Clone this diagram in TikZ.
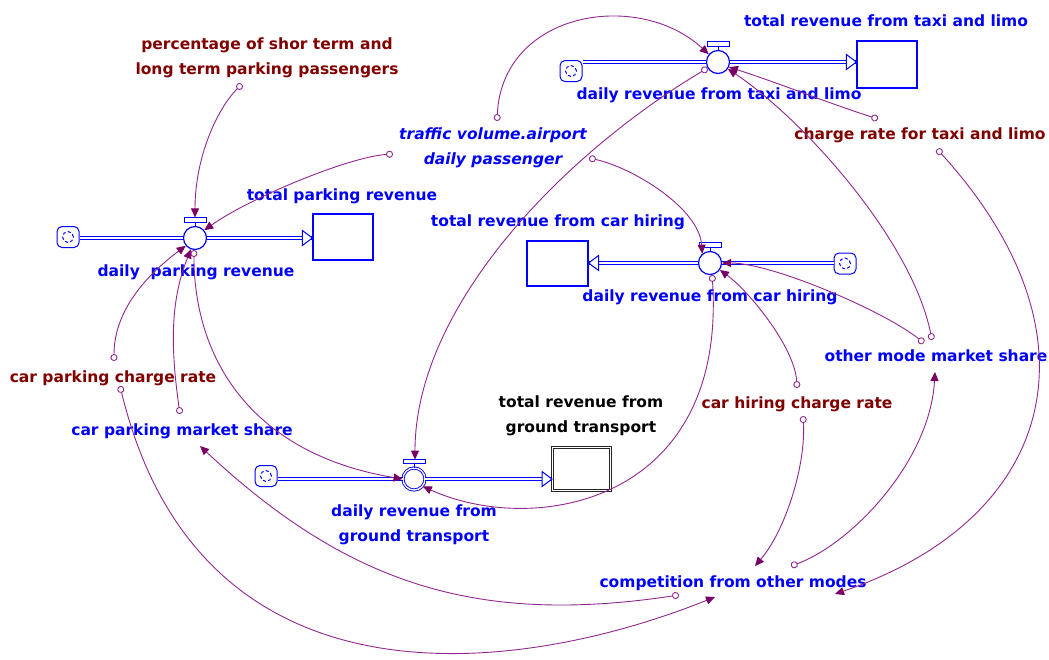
\documentclass[tikz,border=0pt]{standalone}
\usepackage{fontspec}
\setmainfont{DejaVu Sans}
\usetikzlibrary{arrows.meta,calc}

\definecolor{vblue}{RGB}{0,0,255}
\definecolor{vred}{RGB}{128,0,0}
\definecolor{linkcol}{RGB}{145,40,145}
\definecolor{tipcol}{RGB}{120,0,100}

\tikzset{
  lbl/.style={font=\fontsize{15.5}{25}\selectfont\bfseries, inner sep=0pt, anchor=base, align=center},
  flowlbl/.style={lbl, text=vblue},
  auxb/.style={lbl, text=vblue},
  auxr/.style={lbl, text=vred},
  stockbox/.style={draw=vblue, line width=1.2pt, minimum width=60pt, minimum height=46pt, inner sep=0pt, fill=white},
  stockdbl/.style={draw=black!85, line width=1pt, double=white, double distance=1.4pt,
    minimum width=58pt, minimum height=43pt, inner sep=0pt},
  valve/.style={circle, draw=vblue, fill=white, line width=1.2pt, minimum size=23pt, inner sep=0pt},
  valvedbl/.style={valve, line width=0.9pt, double=white, double distance=1.3pt, minimum size=22pt},
  handle/.style={draw=vblue, line width=0.8pt},
  srcsink/.style={draw=vblue, line width=1pt, rounded corners=5pt, minimum width=22pt,
    minimum height=21pt, inner sep=0pt, fill=white,
    path picture={\draw[vblue, line width=1pt, dash pattern=on 3.2pt off 2.3pt]
      (path picture bounding box.center) circle (5.5pt);}},
  pipe/.style={draw=vblue, line width=1pt, double=white, double distance=2.6pt},
  pipetip/.style={draw=vblue, fill=white, line width=1pt, line join=miter},
  conn/.style={draw=linkcol, line width=0.9pt,
    {Circle[open, length=7pt, width=7pt]}-{Triangle[length=9pt, width=8pt, color=tipcol]}},
}

% T-shaped handle on top of a flow valve
\newcommand\valvehandle[1]{\draw[handle] (#1.north) -- ++(0,-4) ++(-11,0) rectangle ++(22,-4.5);}

\begin{document}
\begin{tikzpicture}[x=1pt, y=-1pt]
\useasboundingbox (0,0) rectangle (1049,659);
\fill[white] (0,0) rectangle (1049,659);

% ---------- parking chain ----------
\node[stockbox] (stockPark) at (343,237) {};
\node[valve] (vPark) at (195,238) {};
\node[srcsink] (cloudPark) at (68,237) {};
\node[flowlbl] (lblStockPark) at (342,200.5) {total parking revenue};
\node[flowlbl] (lblVPark) at (196,276.5) {daily\ \ parking revenue};
\draw[pipe] (cloudPark.east |- vPark.west) -- (vPark.west);
\draw[pipe] (vPark.east) -- (vPark.east -| stockPark.west);
\draw[pipetip] (vPark -| stockPark.west) -- ++(-10,-7.5) -- ++(0,15) -- cycle;
\valvehandle{vPark}

% ---------- taxi and limo chain ----------
\node[stockbox, minimum height=47pt] (stockTaxi) at (887,64.5) {};
\node[valve] (vTaxi) at (718,62) {};
\node[srcsink] (cloudTaxi) at (571,71) {};
\node[flowlbl] (lblStockTaxi) at (886,26.5) {total revenue from taxi and limo};
\node[flowlbl] (lblVTaxi) at (719,99.5) {daily revenue from taxi and limo};
\draw[pipe] (cloudTaxi.east |- vTaxi.west) -- (vTaxi.west);
\draw[pipe] (vTaxi.east) -- (vTaxi.east -| stockTaxi.west);
\draw[pipetip] (vTaxi -| stockTaxi.west) -- ++(-10,-7.5) -- ++(0,15) -- cycle;
\valvehandle{vTaxi}

% ---------- car hiring chain (flows right to left) ----------
\node[stockbox, minimum width=61pt, minimum height=45pt] (stockCar) at (557.5,263.5) {};
\node[valve] (vCar) at (710,263) {};
\node[srcsink] (cloudCar) at (845,263.5) {};
\node[flowlbl] (lblStockCar) at (558,226.5) {total revenue from car hiring};
\node[flowlbl] (lblVCar) at (710,301.5) {daily revenue from car hiring};
\draw[pipe] (cloudCar.west |- vCar.east) -- (vCar.east);
\draw[pipe] (vCar.west) -- (vCar.west -| stockCar.east);
\draw[pipetip] (vCar -| stockCar.east) -- ++(10,-7.5) -- ++(0,15) -- cycle;
\valvehandle{vCar}

% ---------- ground transport chain ----------
\node[stockdbl] (stockGround) at (581.5,469) {};
\node[valvedbl] (vGround) at (414,479) {};
\node[srcsink] (cloudGround) at (266,476) {};
\node[lbl] (lblStockGround) at (581,432.5) {total revenue from\\ground transport};
\node[flowlbl] (lblVGround) at (414,541.5) {daily revenue from\\ground transport};
\draw[pipe] (cloudGround.east |- vGround.west) -- (vGround.west);
\draw[pipe] (vGround.east) -- (vGround.east -| stockGround.west);
\draw[pipetip] (vGround -| stockGround.west) -- ++(-10,-7.5) -- ++(0,15) -- cycle;
\valvehandle{vGround}

% ---------- auxiliary variables (base = baseline of the last line) ----------
\node[auxr] (pct) at (267,74.5) {percentage of shor term and\\long term parking passengers};
\node[auxb, font=\fontsize{15.5}{25}\selectfont\bfseries\itshape] (traffic) at (493,164.5) {traffic volume.airport\\daily passenger};
\node[auxr] (chTaxi) at (920,139.5) {charge rate for taxi and limo};
\node[auxb] (otherMS) at (936,361.5) {other mode market share};
\node[auxr] (chCar) at (797,408.5) {car hiring charge rate};
\node[auxr] (chPark) at (113,382.5) {car parking charge rate};
\node[auxb] (parkMS) at (182,435.5) {car parking market share};
\node[auxb] (comp) at (733,587.5) {competition from other modes};

% ---------- causal connectors ----------
\draw[conn] ($(pct.base)+(-25,9.5)$) .. controls +(-25,25) and +(0,-60) .. ($(vPark.north)+(0,-8.5)$);
\draw[conn] ($(traffic.base)+(-100,-10.5)$) .. controls +(-45,3) and +(45,-32) .. (vPark.40);
\draw[conn] ($(traffic.base)+(4,-43.5)$) .. controls +(5,-110) and +(-70,-65) .. (vTaxi.140);
\draw[conn] ($(traffic.base)+(96,-6.5)$) .. controls +(45,10) and +(-3,-45) .. (vCar.130);
\draw[conn] (vTaxi.210) .. controls +(-150,90) and +(0,-150) .. ($(vGround.north)+(1,-8)$);
\draw[conn] ($(chTaxi.base)+(-42,-20.5)$) .. controls +(-50,-16) and +(50,16) .. (vTaxi.-25);
\draw[conn] ($(otherMS.base)+(-4,-21.5)$) .. controls +(-20,-100) and +(75,50) .. (vTaxi.-35);
\draw[conn] ($(otherMS.base)+(-12,-18.5)$) .. controls +(-40,-32) and +(50,0) .. (vCar.east);
\draw[conn] ($(chCar.base)+(0,-20.5)$) .. controls +(-2,-40) and +(30,22) .. (vCar.-35);
\draw[conn] ($(chCar.base)+(6,7.5)$) .. controls +(3,50) and +(30,-35) .. ($(comp.base)+(22,-21.5)$);
\draw[conn] ($(comp.base)+(58,-21.5)$) .. controls +(60,-22) and +(-5,90) .. ($(otherMS.base)+(-1,10.5)$);
\draw[conn] ($(chTaxi.base)+(17,9.5)$) .. controls +(170,187) and +(220,-75) .. ($(comp.base)+(102,6.5)$);
\draw[conn] ($(comp.base)+(-54,7.5)$) .. controls +(-200,30) and +(150,140) .. ($(parkMS.base)+(18,10.5)$);
\draw[conn] ($(chPark.base)+(7,3.5)$) .. controls +(80,330) and +(-200,80) .. ($(comp.base)+(-18,9.5)$);
\draw[conn] ($(chPark.base)+(1,-21.5)$) .. controls +(0,-50) and +(-40,30) .. (vPark.220);
\draw[conn] ($(parkMS.base)+(-2,-21.5)$) .. controls +(-10,-70) and +(-20,50) .. (vPark.250);
\draw[conn] (vPark.265) .. controls +(0,110) and +(-150,-25) .. (vGround.west);
\draw[conn] (vCar.-80) .. controls +(15,230) and +(110,50) .. (vGround.-40);

\end{tikzpicture}
\end{document}
